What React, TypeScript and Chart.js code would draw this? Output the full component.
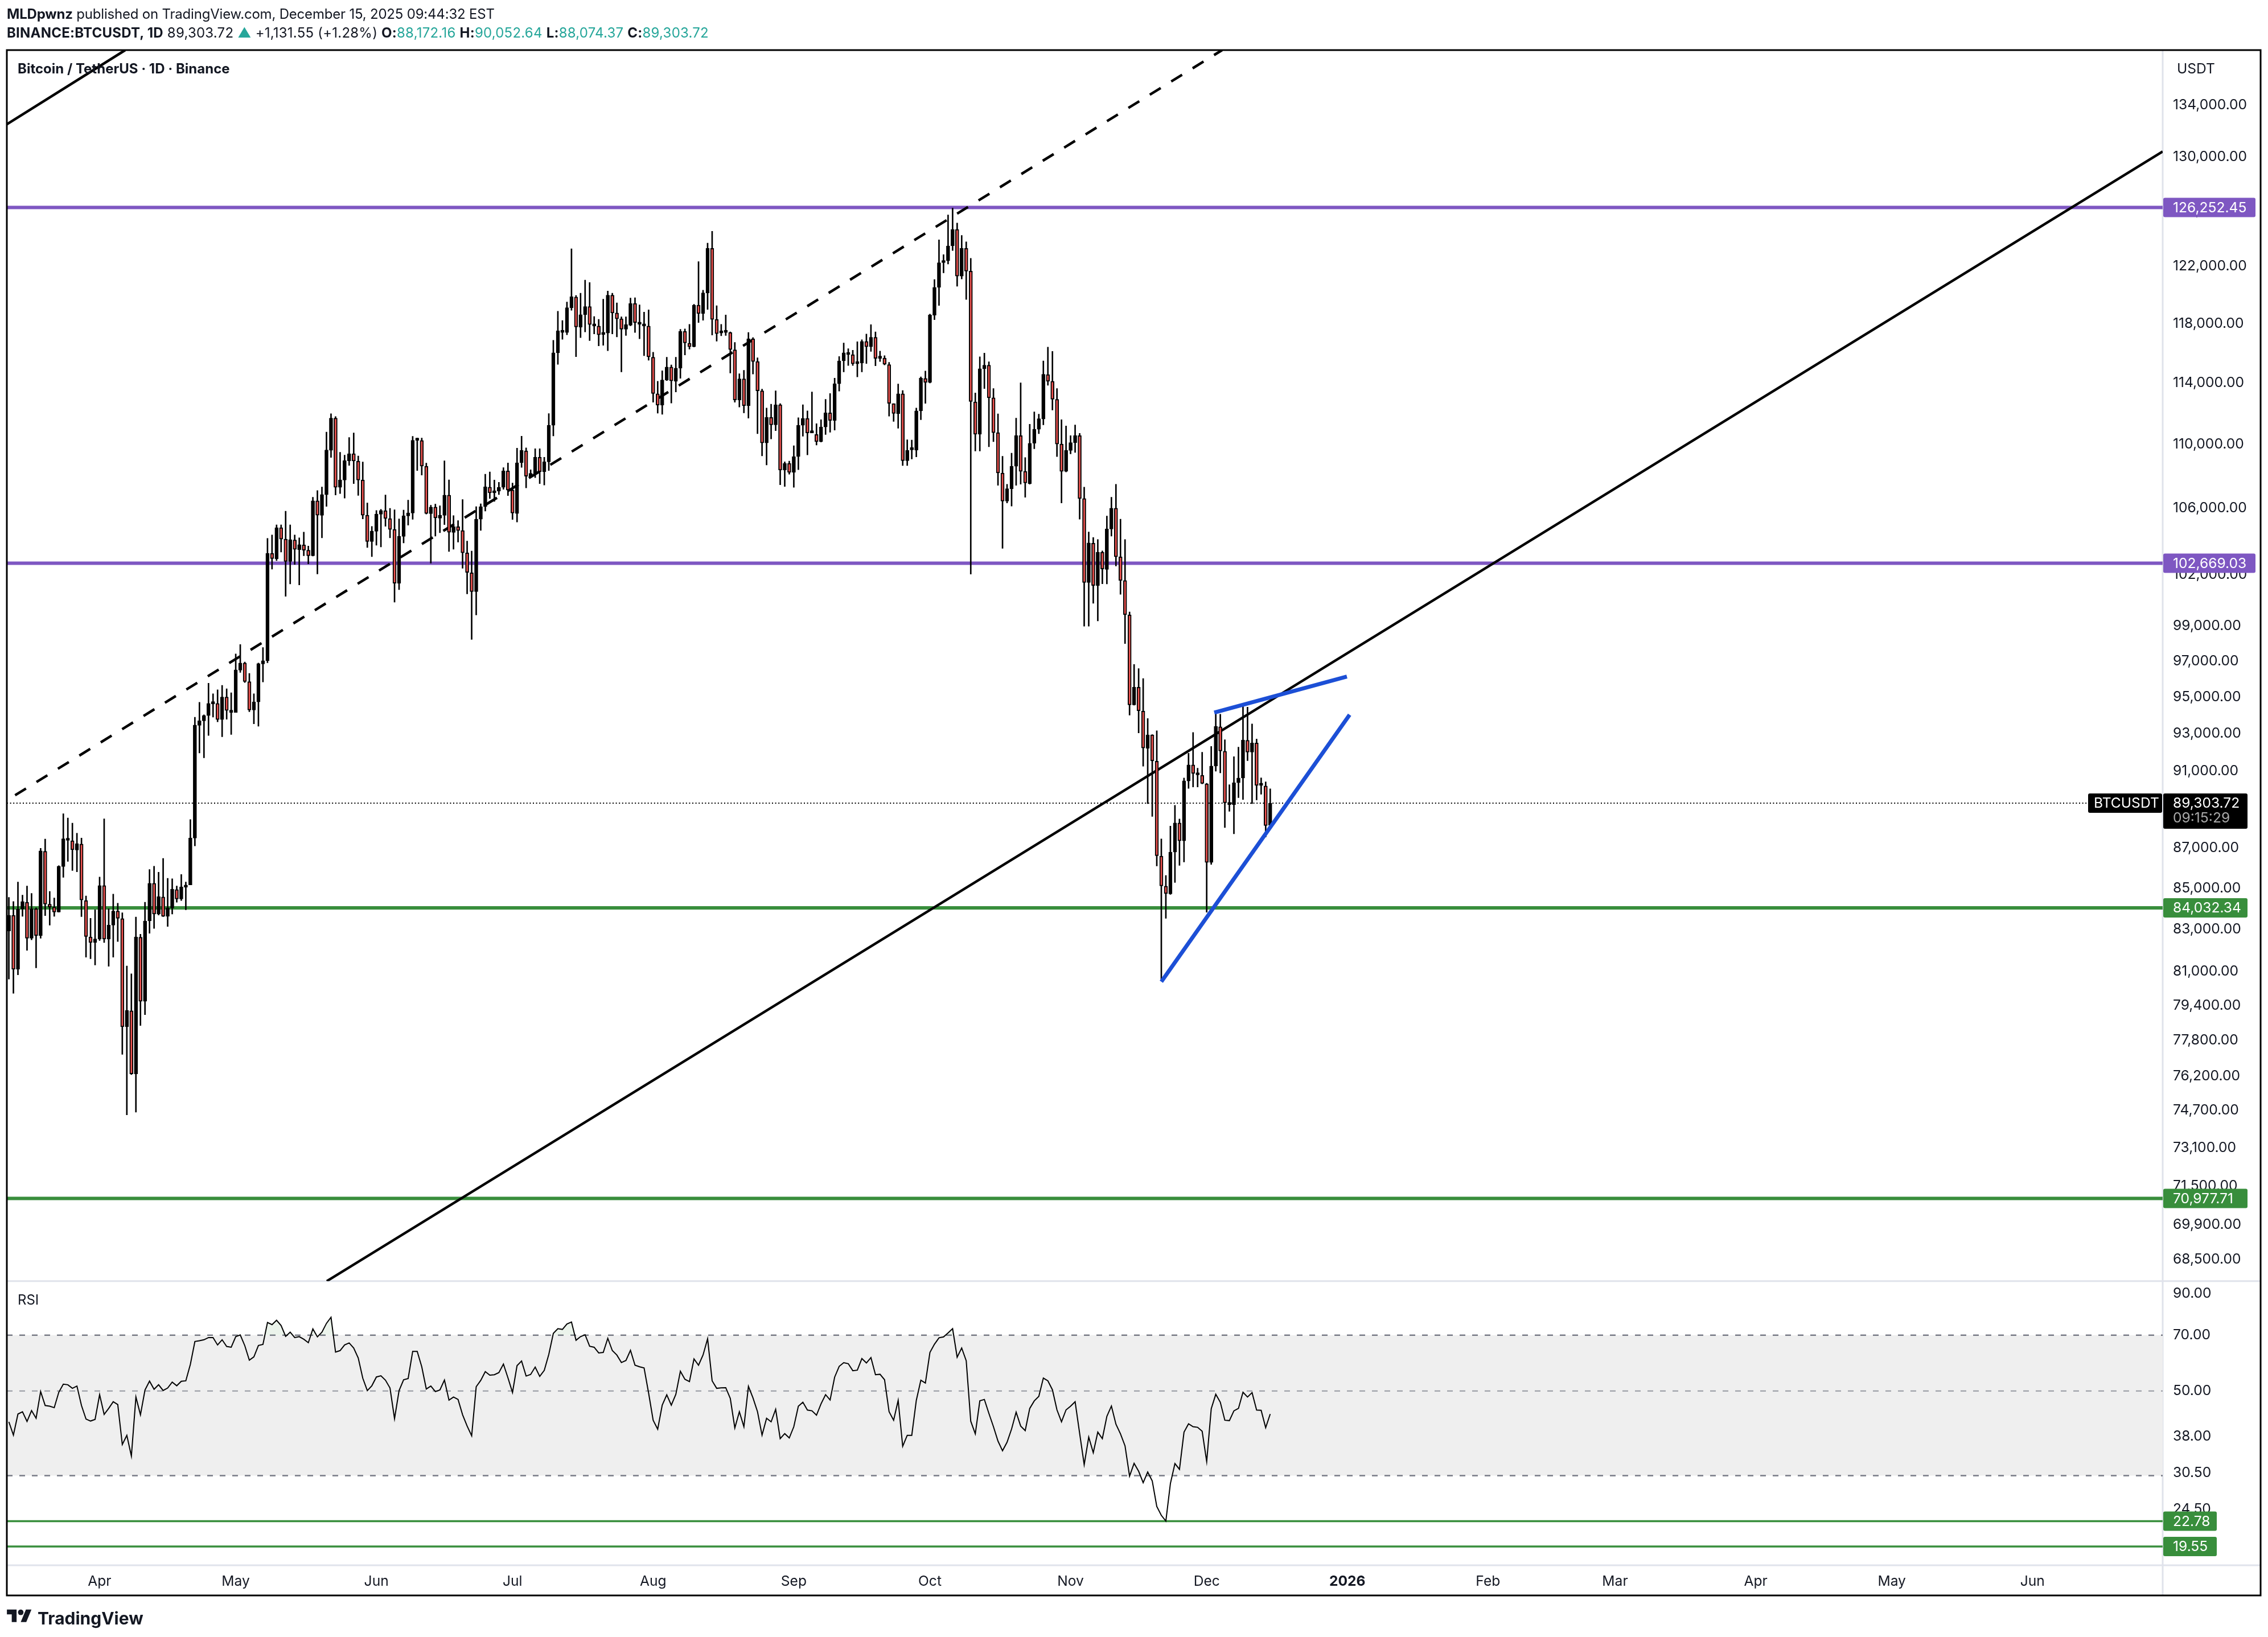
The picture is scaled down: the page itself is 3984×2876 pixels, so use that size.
import React, { useEffect, useRef } from "react";
import { Chart, registerables } from "chart.js";

Chart.register(...registerables);

// days are counted from Apr 1 2025, one candle per day
const firstDay = -20;
const opens = [
  82909, 83668, 81088, 83972, 84309, 82563, 83988, 82689, 86843, 84213,
  84069, 83828, 86074, 87392, 87376, 86904, 87209, 84389, 82626, 82359,
  82516, 85126, 82516, 83192, 83876, 83507, 78419, 79155, 76301, 82610,
  79593, 83396, 85242, 83732, 84565, 83620, 84021, 84934, 84469, 85046,
  85159, 87509, 93430, 93680, 93970, 94610, 94630, 93750, 94990, 94140,
  94140, 96480, 96880, 95840, 94270, 94720, 96830, 97020, 103257, 102930,
  104810, 104117, 102770, 104070, 103484, 103770, 103449, 103110, 106458, 105565,
  106835, 109625, 111700, 107295, 107755, 108960, 109418, 108950, 107755, 105576,
  103967, 104590, 105635, 105855, 105368, 104705, 101483, 104280, 105530, 105705,
  110268, 110256, 108625, 105670, 106070, 105390, 105565, 106810, 104520, 104868,
  104635, 103290, 102100, 100990, 105327, 106100, 107310, 106950, 107060, 107300,
  108330, 107130, 105680, 108840, 109600, 107990, 108150, 109190, 108280, 108900,
  111240, 116020, 117400, 117400, 119100, 119850, 117760, 118620, 119180, 117840,
  117840, 117260, 117360, 119970, 118740, 118340, 117620, 117900, 119400, 117960,
  117840, 117840, 115730, 113290, 112550, 114200, 115070, 114120, 114990, 117480,
  116670, 116430, 119280, 118700, 120130, 123280, 118300, 117360, 117400, 117400,
  116220, 112890, 114280, 112510, 116970, 115440, 113490, 110100, 111750, 111260,
  112570, 108380, 108800, 108230, 109230, 111240, 111680, 110740, 110640, 110180,
  111130, 112040, 111550, 113960, 115480, 115900, 115900, 115280, 115340, 116790,
  116430, 117070, 115650, 115670, 115230, 112650, 111980, 113290, 108970, 109660,
  109640, 112170, 114310, 114040, 118580, 120520, 122260, 122400, 123460, 124650,
  121310, 123280, 121660, 112760, 110660, 114950, 115190, 113030, 110760, 108190,
  106440, 107210, 108620, 110570, 108300, 107530, 110080, 110980, 111640, 114560,
  114120, 112930, 110030, 108300, 109620, 110120, 110570, 106600, 101520, 103870,
  101350, 103330, 102300, 104730, 106000, 103050, 101640, 99630, 94554, 95530,
  94215, 92200, 92920, 91510, 86600, 85100, 84720, 86800, 88280, 87370,
  90460, 91310, 90780, 90760, 90310, 86280, 91250, 93360, 92040, 89230,
  89230, 90370, 90620, 92630, 91990, 92480, 90230, 90200, 88172.16,
];
const closes = [
  83668, 81088, 83972, 84341, 82563, 83988, 82689, 86860, 84213, 84069,
  83828, 86090, 87476, 87476, 86921, 87226, 84421, 82642, 82359, 82532,
  85126, 82516, 83192, 83876, 83523, 78419, 79170, 76301, 82626, 79593,
  83396, 85242, 83732, 84581, 83620, 84037, 84950, 84469, 85062, 85159,
  87509, 93448, 93680, 93970, 94630, 94650, 93750, 94990, 94250, 94230,
  96500, 96880, 95840, 94270, 94720, 96850, 97010, 103257, 102940, 104810,
  104117, 102770, 104080, 103495, 103780, 103449, 103110, 106458, 105576, 106850,
  109650, 111700, 107295, 107767, 108985, 109418, 108950, 107755, 105576, 103967,
  104600, 105646, 105866, 105368, 104705, 101483, 104290, 105540, 105715, 110268,
  110292, 108625, 105680, 106070, 105403, 105576, 106810, 104530, 104880, 104635,
  103290, 102120, 100990, 105327, 106100, 107330, 106950, 107060, 107300, 108330,
  107130, 105700, 108840, 109620, 107990, 108170, 109190, 108280, 108900, 111240,
  116020, 117520, 117520, 119100, 119870, 117780, 118620, 119180, 117940, 117940,
  117240, 117380, 119970, 118740, 118340, 117620, 117940, 119400, 118080, 118080,
  117960, 115750, 113310, 112550, 114200, 115070, 114140, 114990, 117480, 116690,
  116430, 119280, 118700, 120130, 123280, 118300, 117320, 117400, 117440, 116240,
  112890, 114280, 112510, 116970, 115440, 113490, 110100, 111750, 111260, 112570,
  108380, 108800, 108230, 109230, 111240, 111680, 110740, 110790, 110180, 111130,
  112040, 111550, 113960, 115480, 116020, 116020, 115280, 115340, 116790, 116430,
  117070, 115650, 115710, 115250, 112660, 112000, 113290, 108970, 109620, 109730,
  112170, 114330, 114040, 118600, 120520, 122260, 122420, 123460, 124650, 121310,
  123280, 121660, 112780, 110660, 114950, 115190, 113030, 110760, 108200, 106440,
  107210, 108620, 110570, 108300, 107570, 110080, 110980, 111660, 114580, 114120,
  112930, 110030, 108300, 109620, 110120, 110570, 106600, 101520, 103890, 101350,
  103330, 102320, 104730, 106000, 103050, 101640, 99644, 94554, 95530, 94230,
  92210, 92920, 91530, 86620, 85110, 84730, 86800, 88280, 87370, 90470,
  91310, 90860, 90860, 90330, 86280, 91250, 93380, 92050, 89320, 89310,
  90370, 90620, 92640, 91990, 92480, 90230, 90260, 88150, 89303.72,
];
const highs = [
  84549, 84341, 85307, 84661, 85110, 84741, 84037, 86993, 87459, 84838,
  84517, 86122, 88759, 88542, 88275, 87761, 87509, 84613, 83523, 83940,
  85551, 88492, 83988, 84709, 84261, 83796, 81242, 80873, 83587, 82752,
  84309, 85926, 86090, 85796, 86481, 85486, 85470, 85110, 85682, 85307,
  88459, 93880, 94700, 94010, 95750, 95170, 95390, 95630, 95440, 95220,
  97400, 97930, 96940, 96300, 95170, 96880, 97760, 104163, 104370, 104983,
  104983, 105820, 104983, 104370, 104197, 104542, 103700, 106680, 107095, 107320,
  110800, 111985, 111800, 109503, 109321, 110450, 110744, 109273, 108890, 106330,
  104890, 105866, 105935, 106823, 105995, 105905, 105345, 105890, 106505, 110523,
  110413, 110413, 108820, 106186, 106257, 106150, 108960, 107767, 105553, 105240,
  106540, 104000, 103400, 106100, 106275, 108120, 108265, 107750, 107610, 108530,
  108825, 107570, 109770, 110530, 109790, 108400, 109730, 109730, 109190, 112000,
  116870, 118860, 118220, 119500, 123250, 119950, 120110, 121030, 120860, 118500,
  118300, 119700, 120260, 120110, 119440, 118480, 118480, 119780, 119800, 119300,
  118800, 118960, 116060, 114120, 114820, 115730, 115210, 115730, 117620, 117650,
  117960, 119340, 122340, 120320, 123660, 124510, 119240, 117960, 118600, 117440,
  116730, 114620, 114850, 117400, 117050, 115690, 113600, 112360, 112610, 113490,
  112650, 108900, 108950, 109920, 111730, 112570, 112170, 113410, 111340, 111600,
  112930, 113310, 114330, 115770, 116690, 116300, 116200, 116770, 116910, 117300,
  117940, 117440, 116140, 115830, 115380, 112650, 113940, 113510, 110310, 110290,
  112360, 114410, 114800, 118660, 121070, 123900, 122840, 125700, 126200, 125110,
  124220, 123750, 122570, 113350, 115750, 116000, 115420, 113640, 111980, 109250,
  107490, 109450, 111700, 114020, 109170, 111300, 112110, 111960, 115480, 116410,
  116120, 113640, 111600, 111190, 110570, 111260, 110720, 107310, 104550, 104210,
  104090, 103410, 105520, 106680, 107490, 105330, 104090, 99800, 96800, 96570,
  96010, 93810, 92935, 93140, 87470, 85630, 88120, 89190, 88490, 90620,
  91930, 93050, 91140, 91990, 90340, 92300, 94130, 94040, 92660, 90270,
  91750, 92260, 94570, 94430, 93510, 92700, 90630, 90420, 90052.64,
];
const lows = [
  80627, 79957, 80827, 83620, 81982, 82485, 81150, 82563, 83652, 83192,
  83620, 83828, 85535, 86334, 85878, 85812, 83603, 81656, 81580, 81288,
  82453, 82359, 81226, 81656, 82406, 77172, 74508, 76272, 74622, 78478,
  78972, 82799, 83034, 83684, 83603, 83128, 83732, 84309, 84389, 83940,
  85159, 87110, 91950, 91686, 92885, 93880, 93630, 92815, 93770, 92940,
  94140, 96350, 95790, 94180, 93520, 93390, 95820, 96893, 102318, 102827,
  103335, 100713, 101437, 102590, 101380, 103110, 102625, 103100, 102025, 104197,
  106115, 109177, 106823, 106906, 106623, 108673, 107530, 106790, 105345, 103610,
  103065, 103750, 103645, 104890, 104197, 100370, 101100, 103885, 104960, 105322,
  108350, 108062, 105646, 102669, 104300, 104508, 104995, 103370, 103505, 103933,
  102365, 100850, 98220, 99630, 104640, 105830, 106600, 106420, 106850, 107170,
  106780, 105310, 105150, 108550, 107260, 107930, 107900, 107530, 107440, 108350,
  110550, 115240, 116930, 117240, 118920, 115760, 117050, 117440, 116850, 117300,
  116490, 116530, 116160, 117300, 117100, 114740, 117200, 117860, 117400, 116970,
  115830, 115520, 112740, 112020, 111950, 114160, 112680, 113410, 114310, 115880,
  116270, 116410, 118080, 118240, 118980, 117220, 116810, 117180, 117200, 114660,
  112740, 112420, 112040, 111700, 114600, 110700, 109280, 108700, 110360, 110890,
  107460, 107350, 108120, 107300, 108400, 110530, 109340, 110740, 109970, 110160,
  110640, 110790, 110920, 113470, 114740, 115170, 115170, 114410, 114740, 115300,
  116120, 115150, 115440, 115210, 111830, 111490, 111040, 108660, 108660, 109080,
  109210, 111600, 112660, 114000, 118280, 119260, 121540, 122160, 123130, 120600,
  121110, 119670, 102020, 109580, 109580, 113640, 109860, 110180, 107420, 103560,
  106330, 106130, 107420, 107490, 106680, 107490, 109730, 110700, 111260, 113850,
  112230, 109230, 106330, 108260, 109400, 109490, 105330, 98980, 98980, 100300,
  99280, 101450, 101440, 104300, 102500, 100830, 97980, 93990, 94540, 93024,
  91240, 89280, 88620, 86100, 80620, 83520, 84690, 85280, 86130, 86300,
  90070, 90150, 90150, 90310, 83820, 86180, 90980, 90890, 88050, 88880,
  87730, 89590, 89490, 91540, 89280, 89470, 89770, 87570, 88074.37,
];
const rsi = [
  41.5, 38.3, 43.5, 44.1, 41.6, 44.4, 42.4, 49.85, 45.8, 45.6,
  45.2, 49.6, 52.1, 51.9, 50.8, 51.5, 45.8, 42.2, 41.7, 42.1,
  48.9, 43.4, 45.0, 46.85, 46.05, 36.2, 38.25, 33.75, 48.2, 43.3,
  50.3, 53.05, 50.5, 51.9, 50.15, 50.9, 52.75, 51.6, 53.0, 53.15,
  58.7, 67.4, 67.7, 68.1, 69.0, 69.0, 66.0, 68.1, 65.4, 65.1,
  69.4, 70.1, 65.7, 60.2, 61.4, 65.8, 66.2, 75.6, 74.6, 76.6,
  74.2, 69.5, 71.3, 69.0, 69.4, 68.3, 66.9, 72.7, 69.3, 71.3,
  75.2, 78.0, 63.2, 63.8, 66.0, 66.8, 64.8, 61.0, 54.0, 50.1,
  51.6, 54.4, 54.8, 53.35, 50.9, 42.3, 50.1, 53.5, 53.9, 63.5,
  63.5, 57.85, 50.6, 51.5, 49.8, 50.3, 53.4, 47.3, 48.2, 47.5,
  43.3, 40.45, 38.15, 51.3, 53.3, 56.2, 55.0, 55.15, 55.85, 58.8,
  54.1, 49.55, 58.25, 59.9, 54.7, 55.25, 57.75, 54.6, 56.6, 62.35,
  70.8, 72.8, 72.5, 74.9, 75.8, 67.9, 69.4, 70.2, 65.5, 65.1,
  62.9, 63.1, 68.7, 63.8, 62.1, 59.35, 60.1,
  63.9, 58.4, 57.85, 57.45, 49.35, 41.9, 39.7, 45.9, 48.85, 45.9,
  49.0, 56.3, 53.65, 52.9, 60.65, 58.4, 62.15, 68.5, 53.15, 50.8,
  50.95, 51.0, 47.8, 40.0, 44.1, 40.3, 51.4, 47.95, 44.1, 38.3,
  42.4, 41.5, 44.75, 37.5, 38.65, 37.65, 40.3, 45.6, 46.7, 44.55,
  44.35, 43.2, 46.25, 48.9, 47.35, 54.35, 58.0, 59.3, 58.95, 56.5,
  56.7, 60.8, 59.2, 61.15, 55.15, 55.3, 53.5, 44.1, 41.9, 47.25,
  35.8, 38.25, 38.25, 47.25, 53.35, 52.45, 63.1, 66.3, 68.9, 69.3,
  71.0, 72.8, 61.3, 64.8, 60.0, 41.65, 38.6, 47.1, 47.5, 43.65,
  40.3, 36.95, 34.85, 36.7, 39.75, 44.0, 40.45, 39.35, 45.0, 47.1,
  48.4, 54.05, 53.15, 50.35, 44.6, 41.5, 44.6, 45.6, 46.85, 38.7,
  32.05, 37.85, 34.45, 39.0, 37.5, 42.9, 45.65, 40.9, 38.6, 35.9,
  29.9, 32.3, 30.8, 28.75, 30.65, 29.05, 24.9, 23.6, 22.8, 28.6,
  32.25, 31.15, 39.0, 41.0, 40.3, 40.15, 39.2, 32.65, 44.9, 49.0,
  46.7, 41.9, 41.8, 44.35, 45.0, 49.6, 48.2, 49.5, 44.55, 44.5,
  40.05, 43.5,
];

const priceTicks = [
  134000, 130000, 126000, 122000, 118000, 114000, 110000, 106000, 102000, 99000,
  97000, 95000, 93000, 91000, 89000, 87000, 85000, 83000, 81000, 79400,
  77800, 76200, 74700, 73100, 71500, 69900, 68500,
];
const rsiTicks = [90, 70, 50, 38, 30.5, 24.5];
const monthDays = [0, 30, 61, 91, 122, 153, 183, 214, 244, 275, 306, 334, 365, 395, 426];
const monthLabels = ["Apr", "May", "Jun", "Jul", "Aug", "Sep", "Oct", "Nov", "Dec", "2026", "Feb", "Mar", "Apr", "May", "Jun"];

const purpleLevels = [126252.45, 102669.03];
const greenLevels = [84032.34, 70977.71];
const rsiLevels = [22.78, 19.55];
const lastPrice = 89303.72;

// trendlines: [day, price] at both ends
const topLeftLine = [[-20.45, 132500], [5.65, 138340]];
const mainLine = [[50.06, 67644], [454.7, 130420]];
const dashedLine = [[-18.63, 89716], [247.4, 138340]];
const wedgeLow = [[234, 80500], [275.5, 94010]];
const wedgeHigh = [[245.67, 94130], [274.9, 96120]];

const dayMin = -20.45;
const dayMax = 454.7;
const lastLineEnd = 437.9;
const priceMin = 67644;
const priceMax = 138340;
const rsiMin = 17.46;
const rsiMax = 97;

const FONT = "Inter";
const AXIS_SIZE = 24.6;
const PURPLE = "#7e57c2";
const GREEN = "#388e3c";
const BLUE = "#1c4fd6";
const TEAL = "#26a69a";
const TEXT = "#131722";
const SEP = "#e0e3eb";

const fmt = (v: number) => v.toLocaleString("en-US", { minimumFractionDigits: 2, maximumFractionDigits: 2 });
const days = closes.map((_, i) => firstDay + i);
const pts = (line: number[][]) => line.map(([x, y]) => ({ x, y }));
const flat = (y: number, end = dayMax) => [{ x: dayMin, y }, { x: end, y }];

const lineDs = (data: any[], color: string, width: number, order: number, extra: any = {}) => ({
  type: "line" as const,
  data,
  borderColor: color,
  borderWidth: width,
  pointRadius: 0,
  tension: 0,
  fill: false,
  clip: 0,
  order,
  yAxisID: "y",
  ...extra,
});

function tag(ctx: CanvasRenderingContext2D, x: number, y: number, w: number, h: number, color: string) {
  ctx.fillStyle = color;
  ctx.beginPath();
  ctx.roundRect(x, y, w, h, 3);
  ctx.fill();
}

const panePlugin = {
  id: "panes",
  beforeDatasetsDraw(chart: any) {
    const { ctx, scales } = chart;
    ctx.save();
    ctx.strokeStyle = SEP;
    ctx.lineWidth = 3;
    ctx.beginPath();
    ctx.moveTo(12, scales.y.bottom);
    ctx.lineTo(3971, scales.y.bottom);
    ctx.moveTo(12, scales.x.top);
    ctx.lineTo(3971, scales.x.top);
    ctx.moveTo(scales.x.right, 88);
    ctx.lineTo(scales.x.right, 2803);
    ctx.stroke();
    ctx.restore();
  },
  afterDraw(chart: any) {
    const { ctx, scales } = chart;
    const left = scales.x.right + 1;
    ctx.save();
    ctx.font = `${AXIS_SIZE}px ${FONT}`;
    ctx.textBaseline = "middle";
    ctx.textAlign = "left";

    const priceTag = (value: number, color: string) => {
      const y = scales.y.getPixelForValue(value);
      // six-digit prices get a wider tag
      tag(ctx, left, y - 17, value >= 100000 ? 162 : 148, 34, color);
      ctx.fillStyle = "#ffffff";
      ctx.fillText(fmt(value), left + 17, y + 1);
    };
    purpleLevels.forEach((v) => priceTag(v, PURPLE));
    greenLevels.forEach((v) => priceTag(v, GREEN));

    const lastY = scales.y.getPixelForValue(lastPrice);
    tag(ctx, left, lastY - 17, 148, 62, "#000000");
    tag(ctx, left - 132, lastY - 17, 130, 34, "#000000");
    ctx.fillStyle = "#ffffff";
    ctx.fillText(fmt(lastPrice), left + 17, lastY + 1);
    ctx.fillText("BTCUSDT", left - 122, lastY + 1);
    ctx.fillStyle = "#a8a8a8";
    ctx.fillText("09:15:29", left + 17, lastY + 27);

    rsiLevels.forEach((v) => {
      const y = scales.y2.getPixelForValue(v);
      tag(ctx, left, y - 17, 94, 34, GREEN);
      ctx.fillStyle = "#ffffff";
      ctx.fillText(fmt(v), left + 17, y + 1);
    });

    ctx.strokeStyle = "#000000";
    ctx.lineWidth = 3;
    ctx.strokeRect(12, 88, 3959, 2715);
    ctx.restore();
  },
};

const label = (left: number, top: number, extra: React.CSSProperties = {}): React.CSSProperties => ({
  position: "absolute",
  left,
  top,
  fontFamily: FONT,
  fontSize: 24,
  lineHeight: "30px",
  color: TEXT,
  whiteSpace: "pre",
  ...extra,
});
const B = ({ children }: { children: React.ReactNode }) => <b style={{ fontWeight: 700 }}>{children}</b>;
const T = ({ children }: { children: React.ReactNode }) => <span style={{ color: TEAL }}>{children}</span>;

export default function App() {
  const ref = useRef<HTMLCanvasElement>(null);

  useEffect(() => {
    if (!ref.current) return;
    const chart = new Chart(ref.current, {
      type: "bar",
      data: {
        datasets: [
          lineDs(pts(wedgeLow), BLUE, 7, 1),
          lineDs(pts(wedgeHigh), BLUE, 7, 1),
          {
            data: days.map((x, i) => ({ x, y: [opens[i], closes[i]] })),
            backgroundColor: days.map((_, i) => (closes[i] >= opens[i] ? "#000000" : "#ef5350")),
            borderColor: "#000000",
            borderWidth: 2,
            borderSkipped: false,
            barThickness: 6,
            minBarLength: 4,
            grouped: false,
            order: 2,
            yAxisID: "y",
          },
          {
            data: days.map((x, i) => ({ x, y: [lows[i], highs[i]] })),
            backgroundColor: "#000000",
            borderWidth: 0,
            barThickness: 2,
            grouped: false,
            order: 3,
            yAxisID: "y",
          },
          lineDs(pts(topLeftLine), "#000000", 4.5, 4),
          lineDs(pts(mainLine), "#000000", 4.5, 4),
          lineDs(pts(dashedLine), "#000000", 4.5, 4, { borderDash: [22.5, 21.7] }),
          lineDs(flat(lastPrice, lastLineEnd), "#000000", 2, 5, { borderDash: [2, 3.6] }),
          ...purpleLevels.map((v) => lineDs(flat(v), PURPLE, 6, 6)),
          ...greenLevels.map((v) => lineDs(flat(v), GREEN, 6, 6)),

          lineDs(days.map((x, i) => ({ x, y: rsi[i] })), "#000000", 2, 1, {
            yAxisID: "y2",
            fill: { target: { value: 70 }, above: "rgba(56,142,60,0.10)", below: "transparent" },
          }),
          ...rsiLevels.map((v) => lineDs(flat(v), GREEN, 3.5, 2, { yAxisID: "y2" })),
          lineDs(flat(70), "#787b86", 2.5, 3, { yAxisID: "y2", borderDash: [10, 12] }),
          lineDs(flat(50), "#9598a1", 2, 3, { yAxisID: "y2", borderDash: [10, 12] }),
          lineDs(flat(30), "#787b86", 2.5, 3, { yAxisID: "y2", borderDash: [10, 12] }),
          lineDs(flat(70), "transparent", 0, 4, {
            yAxisID: "y2",
            fill: { value: 30 },
            backgroundColor: "#efefef",
          }),
        ] as any,
      },
      options: {
        responsive: false,
        devicePixelRatio: 1,
        animation: false,
        layout: { padding: { left: 12, top: 88, right: 13, bottom: 73 } },
        plugins: { legend: { display: false }, tooltip: { enabled: false } },
        events: [],
        scales: {
          x: {
            type: "linear",
            min: dayMin,
            max: dayMax,
            offset: false,
            grid: { display: false, drawTicks: false },
            border: { display: false },
            afterBuildTicks: (s: any) => {
              s.ticks = monthDays.map((value) => ({ value }));
            },
            afterFit: (s: any) => {
              s.height = 53;
            },
            ticks: {
              autoSkip: false,
              maxRotation: 0,
              padding: 14,
              color: TEXT,
              font: (c: any) => ({
                family: FONT,
                size: AXIS_SIZE,
                weight: c.tick && c.tick.label === "2026" ? "bold" : "normal",
              }),
              callback: (v: any) => monthLabels[monthDays.indexOf(v)],
            },
          },
          y: {
            type: "logarithmic",
            position: "right",
            stack: "panes",
            stackWeight: 2162,
            min: priceMin,
            max: priceMax,
            grid: { display: false, drawTicks: false },
            border: { display: false },
            afterBuildTicks: (s: any) => {
              s.ticks = priceTicks.map((value) => ({ value }));
            },
            afterFit: (s: any) => {
              s.width = 172;
            },
            ticks: {
              autoSkip: false,
              padding: 18,
              color: TEXT,
              font: { family: FONT, size: AXIS_SIZE },
              callback: (v: any) => fmt(v),
            },
          },
          y2: {
            type: "logarithmic",
            axis: "y",
            position: "right",
            stack: "panes",
            stackWeight: 499,
            min: rsiMin,
            max: rsiMax,
            grid: { display: false, drawTicks: false },
            border: { display: false },
            afterBuildTicks: (s: any) => {
              s.ticks = rsiTicks.map((value) => ({ value }));
            },
            afterFit: (s: any) => {
              s.width = 172;
            },
            ticks: {
              autoSkip: false,
              padding: 18,
              color: TEXT,
              font: { family: FONT, size: AXIS_SIZE },
              callback: (v: any) => fmt(v),
            },
          },
        },
      } as any,
      plugins: [panePlugin],
    });
    return () => chart.destroy();
  }, []);

  return (
    <div style={{ position: "absolute", left: 0, top: 0, width: 3984, height: 2876, background: "#fff", overflow: "hidden" }}>
      <canvas ref={ref} width={3984} height={2876} style={{ display: "block" }} />
      <div style={label(12, 10, { letterSpacing: -0.2 })}>
        <B>MLDpwnz</B> published on TradingView.com, December 15, 2025 09:44:32 EST
      </div>
      <div style={label(12, 43, { letterSpacing: 0.22 })}>
        <B>BINANCE:BTCUSDT, 1D</B> 89,303.72 <T>▲</T> +1,131.55 (+1.28%) <B>O:</B><T>88,172.16</T> <B>H:</B>
        <T>90,052.64</T> <B>L:</B><T>88,074.37</T> <B>C:</B><T>89,303.72</T>
      </div>
      <div style={label(31, 106, { fontWeight: 700 })}>Bitcoin / TetherUS · 1D · Binance</div>
      <div style={label(3824, 105, { fontSize: AXIS_SIZE })}>USDT</div>
      <div style={label(31, 2269)}>RSI</div>
      <svg viewBox="0 0 36 28" width={44} height={34} style={{ position: "absolute", left: 12, top: 2823 }} fill={TEXT}>
        <path d="M14 22H7V11H0V4h14v18zM28 22h-8l7.5-18h8L28 22z" />
        <circle cx="20" cy="8" r="4" />
      </svg>
      <div style={label(66, 2825, { fontSize: 30, lineHeight: "36px", fontWeight: 700 })}>TradingView</div>
    </div>
  );
}
